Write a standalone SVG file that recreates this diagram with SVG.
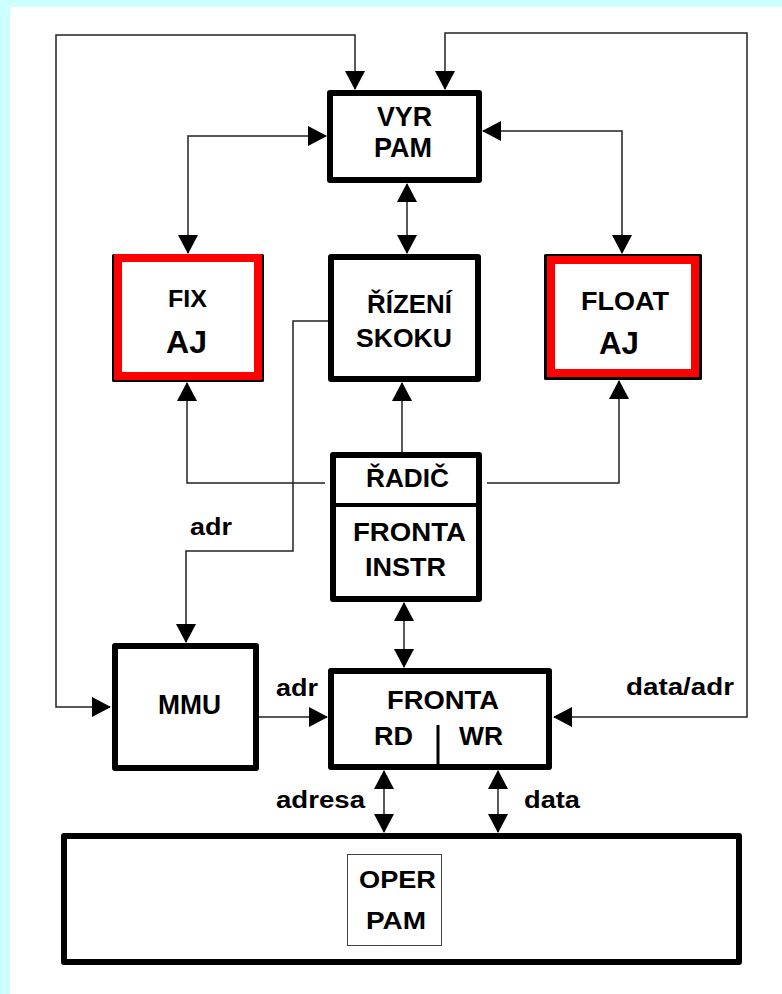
<svg xmlns="http://www.w3.org/2000/svg" width="782" height="994" viewBox="0 0 782 994">
<defs>
<marker id="ah" markerUnits="userSpaceOnUse" markerWidth="19" markerHeight="20" refX="18" refY="10" orient="auto-start-reverse" viewBox="0 0 19 20">
<path d="M0,0 L19,10 L0,20 z" fill="#000"/>
</marker>
<style>
.box{fill:#fff;stroke:#000;stroke-width:6;stroke-linejoin:round}
.blk{fill:#fff;stroke:#000;stroke-width:3;stroke-linejoin:round}
.red{fill:none;stroke:#f00;stroke-width:8}
.t{font-family:"Liberation Sans",Arial,sans-serif;font-weight:bold;fill:#000}
.c{fill:none;stroke:#222;stroke-width:1.5}
.s{stroke:#000;fill:none}
</style>
</defs>
<rect x="0" y="0" width="782" height="994" fill="#ccffff"/>
<rect x="10" y="7" width="772" height="987" fill="#fff"/>

<g id="connectors">
<path class="c" d="M110,707 L56,707 L56,35 L355,35 L355,89" marker-start="url(#ah)" marker-end="url(#ah)"/>
<path class="c" d="M445,89 L445,33 L747,33 L747,717 L554,717" marker-start="url(#ah)" marker-end="url(#ah)"/>
<path class="c" d="M188,253 L188,136 L326,136" marker-start="url(#ah)" marker-end="url(#ah)"/>
<path class="c" d="M483,131 L622,131 L622,253" marker-start="url(#ah)" marker-end="url(#ah)"/>
<path class="c" d="M407,184 L407,253" marker-start="url(#ah)" marker-end="url(#ah)"/>
<path class="c" d="M402,452 L402,383" marker-end="url(#ah)"/>
<path class="c" d="M325,483 L187,483 L187,383" marker-end="url(#ah)"/>
<path class="c" d="M487,483 L619,483 L619,381" marker-end="url(#ah)"/>
<path class="c" d="M328,321 L293,321 L293,551 L186,551 L186,642" marker-end="url(#ah)"/>
<path class="c" d="M404,603 L404,667" marker-start="url(#ah)" marker-end="url(#ah)"/>
<path class="c" d="M259,717 L327,717" marker-end="url(#ah)"/>
<path class="c" d="M384,771 L384,832" marker-start="url(#ah)" marker-end="url(#ah)"/>
<path class="c" d="M498,771 L498,832" marker-start="url(#ah)" marker-end="url(#ah)"/>
<text class="t" x="190" y="535" font-size="23" textLength="42" lengthAdjust="spacingAndGlyphs">adr</text>
<text class="t" x="276" y="696" font-size="23" textLength="42" lengthAdjust="spacingAndGlyphs">adr</text>
<text class="t" x="626" y="695" font-size="23" textLength="108" lengthAdjust="spacingAndGlyphs">data/adr</text>
<text class="t" x="276" y="808" font-size="23" textLength="89" lengthAdjust="spacingAndGlyphs">adresa</text>
<text class="t" x="524" y="808" font-size="23" textLength="56" lengthAdjust="spacingAndGlyphs">data</text>
</g>

<g id="vyr-pam">
<rect class="box" x="330" y="93" width="149" height="87"/>
<text class="t" x="377" y="126" font-size="28" textLength="55" lengthAdjust="spacingAndGlyphs">VYR</text>
<text class="t" x="374" y="157" font-size="28" textLength="58" lengthAdjust="spacingAndGlyphs">PAM</text>
</g>

<g id="fix-aj">
<rect class="blk" x="113.5" y="255.5" width="149" height="125"/>
<rect class="red" x="118" y="258" width="140" height="118"/>
<text class="t" x="168" y="307" font-size="24" textLength="39" lengthAdjust="spacingAndGlyphs">FIX</text>
<text class="t" x="166" y="353" font-size="32" textLength="41" lengthAdjust="spacingAndGlyphs">AJ</text>
</g>

<g id="rizeni-skoku">
<rect class="box" x="331" y="257" width="147" height="122"/>
<text class="t" x="367" y="313" font-size="26" textLength="85" lengthAdjust="spacingAndGlyphs">ŘÍZENÍ</text>
<text class="t" x="356" y="347" font-size="26" textLength="96" lengthAdjust="spacingAndGlyphs">SKOKU</text>
</g>

<g id="float-aj">
<rect class="blk" x="545.5" y="255.5" width="155" height="123"/>
<rect class="red" x="551" y="260" width="144" height="113"/>
<text class="t" x="581" y="310" font-size="25" textLength="88" lengthAdjust="spacingAndGlyphs">FLOAT</text>
<text class="t" x="599" y="354" font-size="32" textLength="40" lengthAdjust="spacingAndGlyphs">AJ</text>
</g>

<g id="radic">
<rect class="box" x="333" y="455" width="146" height="144"/>
<line class="s" x1="333" y1="505" x2="479" y2="505" stroke-width="4"/>
<text class="t" x="366" y="487" font-size="25" textLength="83" lengthAdjust="spacingAndGlyphs">ŘADIČ</text>
<text class="t" x="353" y="541" font-size="25" textLength="113" lengthAdjust="spacingAndGlyphs">FRONTA</text>
<text class="t" x="365" y="576" font-size="25" textLength="81" lengthAdjust="spacingAndGlyphs">INSTR</text>
</g>

<g id="mmu">
<rect class="box" x="115" y="646" width="141" height="122"/>
<text class="t" x="158" y="714" font-size="27" textLength="63" lengthAdjust="spacingAndGlyphs">MMU</text>
</g>

<g id="fronta-rdwr">
<rect class="box" x="331" y="671" width="218" height="96"/>
<line class="s" x1="438" y1="725" x2="438" y2="767" stroke-width="3"/>
<text class="t" x="387" y="709" font-size="25" textLength="112" lengthAdjust="spacingAndGlyphs">FRONTA</text>
<text class="t" x="374" y="745" font-size="25" textLength="39" lengthAdjust="spacingAndGlyphs">RD</text>
<text class="t" x="459" y="745" font-size="25" textLength="44" lengthAdjust="spacingAndGlyphs">WR</text>
</g>

<g id="oper-pam">
<rect class="box" x="64" y="836" width="675" height="126"/>
<rect x="347.5" y="854.5" width="94" height="91" fill="#fff" stroke="#444" stroke-width="1"/>
<text class="t" x="359" y="888" font-size="23" textLength="77" lengthAdjust="spacingAndGlyphs">OPER</text>
<text class="t" x="366" y="929" font-size="23" textLength="60" lengthAdjust="spacingAndGlyphs">PAM</text>
</g>
</svg>
